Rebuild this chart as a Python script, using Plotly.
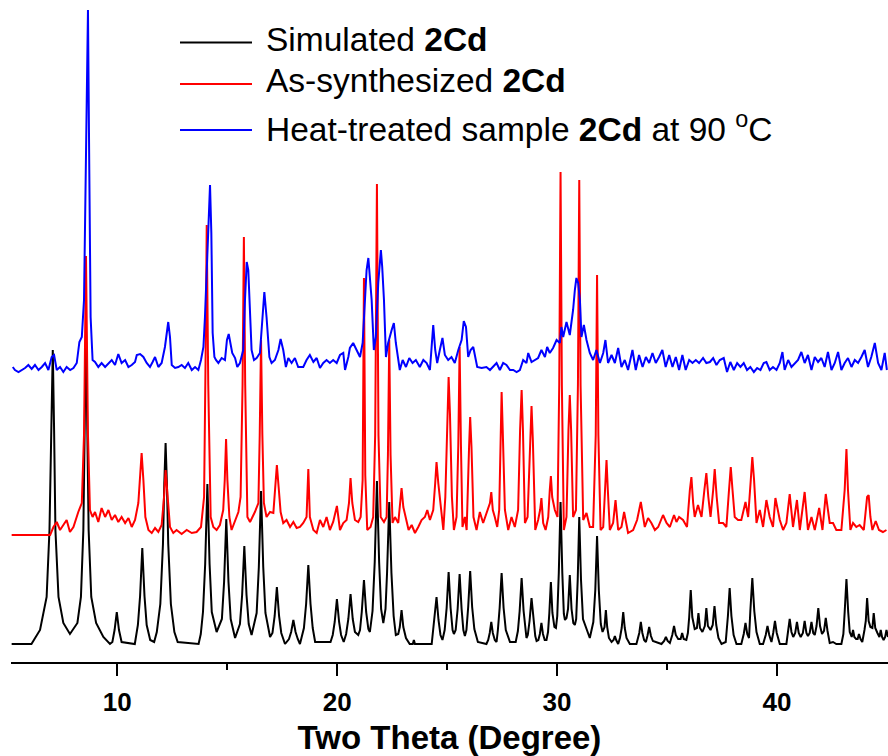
import plotly.graph_objects as go

# ---------------- data (2theta in degrees, intensity in arbitrary units) ----------------
simulated = [
    (5.2,0),(6.1,0),(6.49,14),(6.79,47),(6.92,114),(7.01,214),(7.07,294),(7.13,214),(7.19,114),(7.33,47),
    (7.55,21),(7.85,10),(8.19,21),(8.35,47),(8.46,114),(8.52,214),(8.58,314),(8.64,214),(8.70,114),(8.82,47),
    (9.04,21),(9.37,7),(9.67,0),
    (9.78,2),(9.88,14),(9.98,32),(10.08,14),(10.2,2),(10.8,0),
    (10.94,19),(11.04,48),(11.14,96),(11.24,48),(11.34,19),(11.5,4),(11.68,2),
    (11.8,12),(11.96,40),(12.08,100),(12.14,160),(12.2,201),(12.26,160),(12.32,100),(12.44,40),(12.6,12),(12.75,2),(13.7,0),
    (13.8,10),(13.9,32),(14.0,80),(14.06,130),(14.1,160),(14.14,130),(14.2,80),(14.3,32),(14.52,12),
    (14.76,25),(14.86,62),(14.96,125),(15.06,62),(15.16,25),(15.36,6),
    (15.58,20),(15.68,49),(15.78,98),(15.88,49),(15.98,20),(16.11,9),
    (16.34,31),(16.44,77),(16.54,153),(16.64,77),(16.74,31),(16.95,7),
    (17.06,11),(17.16,28),(17.26,57),(17.36,28),(17.46,11),(17.63,0),
    (17.81,5),(17.91,12),(18.01,24),(18.11,12),(18.21,5),(18.31,0),
    (18.49,16),(18.59,40),(18.69,79),(18.79,40),(18.89,16),(19.0,2),(19.7,2),
    (19.8,9),(19.89,22),(19.99,45),(20.09,22),(20.18,9),(20.3,2),
    (20.41,10),(20.51,25),(20.61,50),(20.71,25),(20.81,12),(20.96,9),
    (21.04,14),(21.12,32),(21.22,64),(21.32,32),(21.42,15),(21.49,12),
    (21.61,33),(21.71,82),(21.81,163),(21.91,82),(22.0,35),(22.1,21),
    (22.2,35),(22.27,71),(22.37,142),(22.47,71),(22.57,28),(22.67,9),
    (22.78,10),(22.85,17),(22.93,34),(23.01,17),(23.13,6),(23.3,0),(23.44,0),(23.49,4),(23.54,0),(24.3,0),
    (24.34,9),(24.43,24),(24.52,47),(24.61,24),(24.7,9),(24.79,4),
    (24.89,14),(24.98,36),(25.07,72),(25.16,36),(25.25,14),(25.31,10),
    (25.39,14),(25.48,35),(25.57,70),(25.66,35),(25.74,14),(25.81,8),
    (25.88,14),(25.96,37),(26.05,73),(26.14,37),(26.24,15),(26.4,2),(26.79,0),
    (26.87,4),(26.94,11),(27.01,22),(27.08,11),(27.17,4),(27.25,2),
    (27.31,14),(27.39,36),(27.48,71),(27.57,36),(27.67,14),(27.86,2),(28.12,2),
    (28.22,13),(28.3,33),(28.39,66),(28.48,33),(28.56,12),(28.61,6),
    (28.67,9),(28.75,23),(28.84,46),(28.93,23),(29.01,8),(29.07,3),
    (29.15,4),(29.22,10),(29.29,21),(29.36,10),(29.44,4),(29.52,4),
    (29.59,12),(29.65,31),(29.72,62),(29.79,31),(29.88,17),(29.95,16),
    (30.01,28),(30.08,71),(30.16,142),(30.24,71),(30.31,30),(30.36,24),
    (30.43,26),(30.5,35),(30.58,69),(30.66,35),(30.74,21),(30.81,19),
    (30.87,25),(30.94,64),(31.01,127),(31.09,64),(31.18,25),(31.49,6),
    (31.65,22),(31.74,54),(31.82,108),(31.9,54),(31.99,20),(32.07,12),
    (32.12,14),(32.16,17),(32.22,34),(32.28,17),(32.36,6),(32.48,2),
    (32.57,4),(32.63,8),(32.69,4),(32.78,0),
    (32.86,6),(32.94,16),(33.01,32),(33.08,16),(33.16,6),(33.31,0),(33.61,0),
    (33.67,4),(33.74,11),(33.81,22),(33.88,11),(33.96,4),(34.04,2),
    (34.11,8),(34.19,17),(34.27,8),(34.36,3),(34.75,0),
    (34.87,3),(34.95,7),(35.03,3),(35.13,1),
    (35.24,9),(35.32,18),(35.4,9),(35.51,5),
    (35.62,5),(35.69,11),(35.76,5),(35.88,4),
    (35.95,11),(36.01,27),(36.08,54),(36.15,27),(36.22,16),(36.26,15),
    (36.36,16),(36.43,31),(36.5,16),(36.61,12),
    (36.72,18),(36.79,36),(36.86,18),(36.98,14),
    (37.08,19),(37.16,38),(37.24,19),(37.34,6),(37.48,0),(37.67,2),
    (37.77,28),(37.85,56),(37.93,28),(38.03,9),(38.16,0),(38.38,0),
    (38.49,10),(38.57,21),(38.65,10),(38.73,6),
    (38.79,33),(38.88,66),(38.97,33),(39.07,12),(39.22,0),(39.37,0),
    (39.49,9),(39.57,18),(39.65,9),(39.75,2),
    (39.83,11),(39.91,23),(39.99,11),(40.13,0),(40.43,0),
    (40.5,12),(40.58,25),(40.66,12),(40.74,7),
    (40.83,11),(40.91,22),(40.99,11),(41.08,7),
    (41.18,11),(41.26,23),(41.34,11),(41.41,8),
    (41.49,11),(41.57,22),(41.65,11),(41.72,9),
    (41.8,18),(41.88,36),(41.96,18),(42.05,10),
    (42.14,13),(42.22,26),(42.3,13),(42.4,1),
    (42.55,2),(42.7,0),(42.93,0),
    (43.02,10),(43.08,32),(43.16,65),(43.24,32),(43.31,12),
    (43.4,7),(43.46,14),(43.52,7),(43.6,5),
    (43.67,5),(43.73,10),(43.8,5),(43.88,2),
    (43.98,14),(44.04,23),(44.1,46),(44.17,23),(44.25,17),
    (44.34,16),(44.4,31),(44.47,16),(44.57,11),
    (44.66,7),(44.72,14),(44.78,7),(44.85,4),
    (44.92,7),(44.98,14),(45.05,7),
]

as_synthesized = [
    (5.2,0),(6.95,0),(7.1,8),(7.25,13),(7.4,5),(7.55,10),(7.7,15),(7.85,3),(8.01,8),(8.23,23),(8.39,32),
    (8.49,100),(8.58,279),(8.67,100),(8.76,25),(8.88,18),(8.99,23),(9.14,13),(9.29,27),(9.45,18),(9.6,25),
    (9.75,15),(9.9,20),(10.05,13),(10.2,18),(10.36,12),(10.51,17),(10.66,8),(10.81,15),(10.96,32),(11.04,55),
    (11.11,82),(11.19,55),(11.28,18),(11.42,5),(11.57,2),(11.72,7),(11.87,3),(12.02,10),(12.13,38),(12.2,65),
    (12.28,38),(12.4,8),(12.55,2),(12.7,5),(12.93,1),(13.16,5),(13.39,2),(13.61,3),(13.81,8),(13.95,38),
    (14.02,180),(14.07,310),(14.14,150),(14.25,18),(14.37,8),(14.52,5),(14.67,10),(14.82,25),(14.89,55),
    (14.95,96),(15.01,55),(15.1,18),(15.2,5),(15.36,15),(15.51,23),(15.61,38),(15.7,150),(15.76,298),
    (15.82,150),(15.92,18),(16.04,13),(16.26,23),(16.42,32),(16.48,100),(16.54,195),(16.6,100),(16.67,32),
    (16.79,18),(16.95,23),(17.1,22),(17.19,48),(17.26,70),(17.34,48),(17.43,23),(17.55,12),(17.7,15),
    (17.86,8),(18.01,13),(18.16,7),(18.31,8),(18.46,12),(18.61,18),(18.69,66),(18.76,18),(18.92,5),
    (19.07,2),(19.22,15),(19.37,8),(19.52,18),(19.67,5),(19.82,13),(19.99,29),(20.13,5),(20.28,12),
    (20.43,15),(20.54,32),(20.61,57),(20.69,32),(20.81,15),(20.96,13),(21.07,18),(21.16,55),(21.22,257),
    (21.28,60),(21.37,5),(21.52,8),(21.64,18),(21.73,100),(21.81,351),(21.88,100),(21.98,18),(22.13,13),
    (22.25,18),(22.31,80),(22.37,195),(22.43,80),(22.52,12),(22.63,18),(22.78,12),(22.87,32),(22.93,47),
    (23.01,28),(23.13,15),(23.25,5),(23.39,10),(23.54,2),(23.69,8),(23.84,15),(23.99,18),(24.1,25),
    (24.22,15),(24.37,25),(24.46,52),(24.52,73),(24.6,52),(24.7,32),(24.83,5),(24.92,38),(25.01,122),
    (25.07,158),(25.13,122),(25.22,38),(25.31,5),(25.43,18),(25.51,90),(25.57,188),(25.63,90),(25.7,8),
    (25.81,18),(25.89,5),(26.0,88),(26.05,118),(26.11,88),(26.2,18),(26.34,5),(26.49,23),(26.64,12),
    (26.79,22),(26.95,32),(27.01,43),(27.08,25),(27.17,18),(27.28,8),(27.37,25),(27.43,105),(27.48,143),
    (27.53,105),(27.63,25),(27.78,5),(27.93,18),(28.08,8),(28.23,25),(28.32,105),(28.39,145),(28.45,105),
    (28.54,12),(28.66,18),(28.78,95),(28.84,129),(28.9,95),(29.01,5),(29.14,15),(29.23,25),(29.29,37),
    (29.37,12),(29.48,5),(29.6,18),(29.67,45),(29.72,59),(29.78,38),(29.9,25),(30.02,18),(30.1,150),
    (30.16,363),(30.22,150),(30.31,5),(30.43,18),(30.52,105),(30.58,140),(30.64,105),(30.73,18),(30.86,25),
    (30.95,150),(31.01,355),(31.07,150),(31.19,15),(31.34,22),(31.49,8),(31.64,8),(31.76,100),(31.82,260),
    (31.88,100),(31.98,5),(32.1,8),(32.19,45),(32.25,75),(32.31,45),(32.4,5),(32.55,12),(32.66,35),(32.78,5),
    (32.93,8),(33.05,23),(33.23,2),(33.46,5),(33.64,15),(33.81,33),(33.99,8),(34.14,17),(34.29,12),(34.45,5),
    (34.6,8),(34.82,20),(34.98,12),(35.13,8),(35.32,20),(35.43,13),(35.55,18),(35.73,15),(35.91,8),(36.04,45),
    (36.11,58),(36.19,32),(36.26,18),(36.41,30),(36.57,18),(36.7,45),(36.79,62),(36.88,38),(36.98,18),
    (37.1,45),(37.17,66),(37.26,38),(37.37,12),(37.55,12),(37.7,8),(37.82,45),(37.9,68),(37.98,45),(38.08,18),
    (38.23,15),(38.38,15),(38.57,33),(38.69,18),(38.81,55),(38.88,78),(38.96,55),(39.07,12),(39.22,25),
    (39.37,8),(39.52,35),(39.67,18),(39.82,8),(39.93,37),(40.13,15),(40.28,5),(40.43,12),(40.58,41),(40.73,8),
    (40.91,35),(41.04,5),(41.26,43),(41.41,5),(41.57,18),(41.72,5),(41.92,27),(42.07,5),(42.22,41),(42.4,12),
    (42.55,12),(42.7,5),(42.93,5),(43.08,45),(43.16,86),(43.23,45),(43.34,5),(43.46,12),(43.61,8),(43.76,10),
    (43.95,5),(44.1,38),(44.17,40),(44.25,18),(44.34,5),(44.49,14),(44.64,5),(44.82,3),(44.98,5),
]

heat_treated = [
    (5.25,3),(5.35,0),(5.51,-2),(5.66,0),(5.81,2),(5.96,5),(6.11,1),(6.26,5),(6.42,0),(6.57,3),(6.72,7),
    (6.87,0),(7.02,13),(7.13,15),(7.25,0),(7.4,3),(7.55,-2),(7.7,3),(7.86,0),(8.01,2),(8.16,7),(8.28,28),
    (8.39,33),(8.49,70),(8.58,230),(8.67,360),(8.73,200),(8.79,53),(8.88,10),(8.99,8),(9.14,3),(9.29,7),
    (9.45,3),(9.6,7),(9.75,10),(9.9,5),(10.05,16),(10.2,7),(10.36,10),(10.51,3),(10.66,5),(10.81,8),
    (10.89,15),(11.04,16),(11.19,13),(11.34,7),(11.49,3),(11.61,8),(11.72,13),(11.87,3),(12.02,7),
    (12.17,23),(12.25,40),(12.32,48),(12.4,33),(12.48,5),(12.63,2),(12.78,3),(12.93,5),(13.08,2),(13.23,7),
    (13.39,0),(13.54,3),(13.69,0),(13.81,10),(13.92,23),(13.99,53),(14.1,120),(14.17,170),(14.22,185),
    (14.28,137),(14.34,37),(14.42,13),(14.49,10),(14.6,7),(14.75,12),(14.9,10),(14.99,30),(15.07,36),
    (15.13,27),(15.23,17),(15.36,12),(15.46,3),(15.58,7),(15.73,20),(15.81,70),(15.89,108),(15.96,100),
    (16.04,53),(16.11,20),(16.22,10),(16.34,12),(16.49,17),(16.6,53),(16.69,78),(16.79,53),(16.92,13),
    (17.02,7),(17.17,10),(17.33,20),(17.43,31),(17.55,20),(17.67,3),(17.78,12),(17.93,7),(18.08,12),
    (18.23,3),(18.46,3),(18.61,10),(18.76,15),(18.92,8),(19.07,12),(19.22,2),(19.37,7),(19.52,10),
    (19.67,7),(19.82,10),(19.98,7),(20.13,15),(20.28,17),(20.36,0),(20.51,13),(20.58,22),(20.73,27),
    (20.89,20),(21.04,13),(21.16,27),(21.26,63),(21.34,100),(21.42,112),(21.49,93),(21.57,70),(21.67,20),
    (21.76,33),(21.87,87),(21.95,117),(21.99,120),(22.05,103),(22.13,70),(22.22,13),(22.32,27),(22.48,40),
    (22.58,47),(22.67,27),(22.76,13),(22.85,0),(22.98,10),(23.13,3),(23.28,12),(23.43,7),(23.58,10),
    (23.76,3),(23.92,10),(24.07,7),(24.22,0),(24.29,20),(24.37,45),(24.46,20),(24.55,7),(24.67,20),
    (24.79,32),(24.9,15),(25.05,10),(25.2,13),(25.35,7),(25.51,20),(25.66,30),(25.76,49),(25.86,43),
    (25.96,13),(26.07,20),(26.19,23),(26.28,13),(26.37,3),(26.57,2),(26.79,3),(26.95,0),(27.1,3),(27.25,7),
    (27.4,0),(27.55,7),(27.7,5),(27.86,0),(28.01,0),(28.16,-2),(28.31,0),(28.46,10),(28.61,7),(28.69,17),
    (28.84,8),(28.99,10),(29.14,12),(29.29,20),(29.45,13),(29.55,23),(29.67,17),(29.82,22),(29.98,30),
    (30.13,27),(30.2,43),(30.28,33),(30.43,48),(30.58,35),(30.73,60),(30.81,80),(30.88,92),(30.96,87),
    (31.04,70),(31.11,33),(31.22,45),(31.34,30),(31.49,17),(31.64,10),(31.79,20),(31.95,7),
    (32.1,17),(32.2,30),(32.32,7),(32.48,15),(32.63,7),(32.78,22),(32.93,3),(33.08,10),(33.23,0),(33.43,20),
    (33.58,0),(33.73,15),(33.89,3),(34.04,13),(34.19,7),(34.34,17),(34.49,7),(34.64,13),(34.79,20),(34.94,3),
    (35.1,15),(35.25,3),(35.4,13),(35.55,0),(35.7,15),(35.85,0),(36.01,10),(36.16,7),(36.31,10),(36.46,7),
    (36.64,12),(36.79,7),(36.95,8),(37.1,12),(37.25,5),(37.4,10),(37.58,12),(37.73,-2),(37.88,8),(38.04,0),
    (38.19,7),(38.34,3),(38.49,7),(38.64,0),(38.79,3),(38.95,-2),(39.1,2),(39.25,0),(39.4,7),(39.52,8),
    (39.67,0),(39.82,3),(39.98,0),(40.13,7),(40.25,18),(40.35,0),(40.51,10),(40.66,3),(40.81,7),(40.96,10),
    (41.11,18),(41.26,7),(41.41,15),(41.57,0),(41.72,13),(41.87,8),(42.02,12),(42.17,3),(42.32,18),(42.48,0),
    (42.63,7),(42.78,18),(42.93,0),(43.08,7),(43.23,12),(43.39,3),(43.54,10),(43.69,7),(43.84,13),(43.99,20),
    (44.14,3),(44.29,13),(44.45,27),(44.6,7),(44.75,0),(44.9,17),(45.0,0),
]

series_names = ["Simulated <b>2Cd</b>", "As-synthesized <b>2Cd</b>",
                "Heat-treated sample <b>2Cd</b> at 90 <sup>o</sup>C"]
tick_values = [10, 20, 30, 40]
minor_tick_values = [15, 25, 35]
x_title = "Two Theta (Degree)"

# ---------------- styling / stacking ----------------
series = [simulated, as_synthesized, heat_treated]
colors = ["#000000", "#ff0000", "#0000ff"]
offsets = [18, 127, 292]          # vertical stacking of the patterns
FONT = "Liberation Sans, Arial, sans-serif"

fig = go.Figure()
for data, col, off, name in zip(series, colors, offsets, series_names):
    fig.add_trace(go.Scatter(
        x=[p[0] for p in data],
        y=[p[1] + off for p in data],
        mode="lines", name=name, showlegend=False,
        line=dict(color=col, width=2),
        hoverinfo="skip",
    ))

# manual legend (long line samples as in the original)
legend_rows = [0.9472, 0.8838, 0.8135]
for name, col, yy in zip(series_names, colors, legend_rows):
    fig.add_shape(type="line", xref="paper", yref="paper",
                  x0=0.1927, x1=0.2748, y0=yy, y1=yy,
                  line=dict(color=col, width=2))
    fig.add_annotation(xref="paper", yref="paper", x=0.2885, y=yy + 0.0046,
                       xanchor="left", yanchor="middle", showarrow=False,
                       text=name, font=dict(family=FONT, size=33.5, color="black"))

fig.update_layout(
    width=888, height=756,
    margin=dict(l=11, r=0, t=8, b=94),
    plot_bgcolor="white", paper_bgcolor="white",
    showlegend=False,
    font=dict(family=FONT, color="black"),
    xaxis=dict(
        range=[5.17, 45.05], tickvals=tick_values,
        showline=True, linecolor="black", linewidth=2,
        ticks="outside", ticklen=12, tickwidth=2, tickcolor="black",
        ticklabelstandoff=4,
        tickfont=dict(family=FONT, size=26, color="black", weight="bold"),
        showgrid=False, zeroline=False,
        minor=dict(tickvals=minor_tick_values, ticks="outside", ticklen=6, tickwidth=2,
                   tickcolor="black", showgrid=False),
        title=dict(text=x_title, standoff=14,
                   font=dict(family=FONT, size=33, color="black", weight="bold")),
    ),
    yaxis=dict(visible=False, range=[0, 654], fixedrange=True),
)

fig.write_html("out.html")
